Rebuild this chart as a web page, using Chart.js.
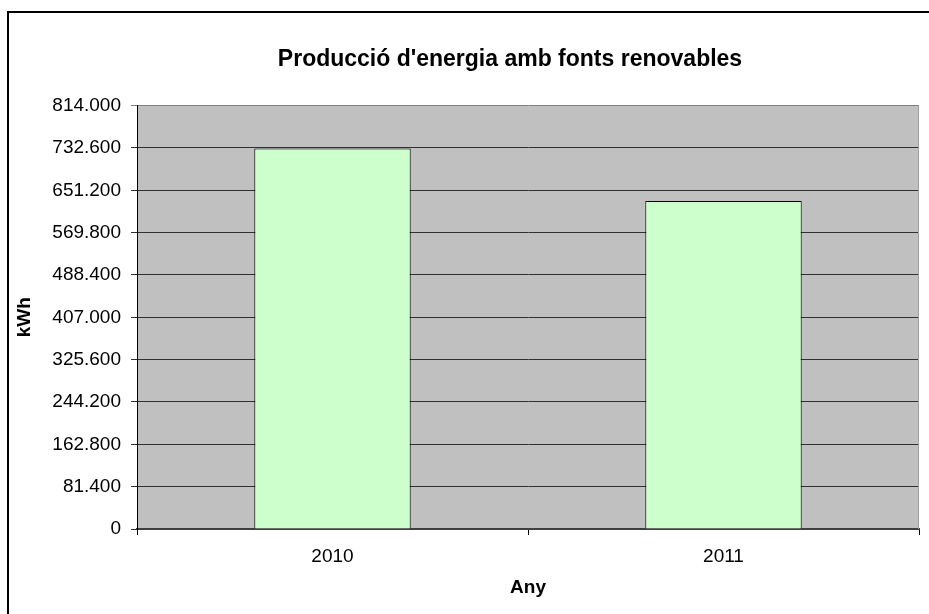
<!DOCTYPE html>
<html>
<head>
<meta charset="utf-8">
<script src="https://cdn.jsdelivr.net/npm/chart.js@4/dist/chart.umd.min.js"></script>
<style>
  body { margin: 0; background: #fff; overflow: hidden; width: 929px; height: 614px; position: relative; }
  #frame { position: absolute; left: 7px; top: 11px; width: 1000px; height: 700px; border: 2px solid #000; }
  #wrap { position: absolute; left: 0; top: 0; width: 1020px; height: 614px; }
</style>
</head>
<body>
<div id="frame"></div>
<div id="wrap"><canvas id="chart" width="1020" height="614"></canvas></div>
<script>
// dades
const categories = ["2010", "2011"];
const produccio = [731300, 630700];
const yMax = 814000;
const yStep = 81400;

const fontFam = "'Liberation Sans', Arial, sans-serif";

function formatThousands(v) {
  // 814000 -> "814.000"
  return String(Math.round(v)).replace(/\B(?=(\d{3})+(?!\d))/g, ".");
}

// fons gris de l'area del grafic
const plotBackground = {
  id: "plotBackground",
  beforeDraw(chart) {
    const { ctx, chartArea: a } = chart;
    ctx.save();
    ctx.fillStyle = "#C0C0C0";
    ctx.fillRect(a.left, a.top, a.right - a.left, a.bottom - a.top);
    ctx.restore();
  },
  afterDatasetsDraw(chart) {
    const { ctx, chartArea: a } = chart;
    ctx.save();
    ctx.strokeStyle = "#A0A0A0";
    ctx.lineWidth = 1;
    ctx.beginPath();
    ctx.moveTo(a.right - 0.5, a.top);
    ctx.lineTo(a.right - 0.5, a.bottom);
    ctx.stroke();
    ctx.restore();
  }
};

const chart = new Chart(document.getElementById("chart"), {
  type: "bar",
  data: {
    labels: categories,
    datasets: [{
      label: "kWh",
      data: produccio,
      backgroundColor: "#CCFFCC",
      borderColor: "#000000",
      borderWidth: 1,
      categoryPercentage: 1.0,
      barPercentage: 0.4
    }]
  },
  options: {
    responsive: false,
    animation: false,
    devicePixelRatio: 1,
    layout: { padding: 0 },
    plugins: {
      legend: { display: false },
      tooltip: { enabled: false },
      title: {
        display: true,
        text: "Producció d'energia amb fonts renovables",
        color: "#000",
        font: { family: fontFam, size: 23, weight: "bold", lineHeight: 1.2 },
        padding: { top: 46, bottom: 32 }
      }
    },
    scales: {
      x: {
        type: "category",
        offset: true,
        grid: {
          offset: true,
          drawOnChartArea: false,
          drawTicks: true,
          tickLength: 6,
          color: "#000"
        },
        border: { display: true, color: "#404040", width: 2 },
        ticks: {
          color: "#000",
          padding: 10,
          font: { family: fontFam, size: 19 }
        },
        title: {
          display: true,
          text: "Any",
          color: "#000",
          font: { family: fontFam, size: 19, weight: "bold", lineHeight: 1.2 },
          padding: { top: 0, bottom: 15 }
        },
        afterFit(scale) { scale.height = 85; }
      },
      y: {
        min: 0,
        max: yMax,
        grid: {
          drawTicks: true,
          tickLength: 6,
          color: (c) => (c.tick && c.tick.value === yMax ? "#808080" : "#303030"),
          lineWidth: 1
        },
        border: { display: true, color: "#000", width: 1 },
        ticks: {
          stepSize: yStep,
          color: "#000",
          padding: 10,
          font: { family: fontFam, size: 19 },
          callback: (v) => formatThousands(v)
        },
        title: {
          display: true,
          text: "kWh",
          color: "#000",
          font: { family: fontFam, size: 19, weight: "bold", lineHeight: 1.2 },
          padding: { top: 13, bottom: 0 }
        },
        afterFit(scale) { scale.width = 137; }
      },
      // espai buit a la dreta perque el titol quedi centrat com a l'original
      yRight: {
        type: "linear",
        position: "right",
        display: true,
        grid: { drawOnChartArea: false, drawTicks: false },
        border: { display: false },
        ticks: { display: false },
        afterFit(scale) { scale.width = 101; }
      }
    }
  },
  plugins: [plotBackground]
});
</script>
</body>
</html>
